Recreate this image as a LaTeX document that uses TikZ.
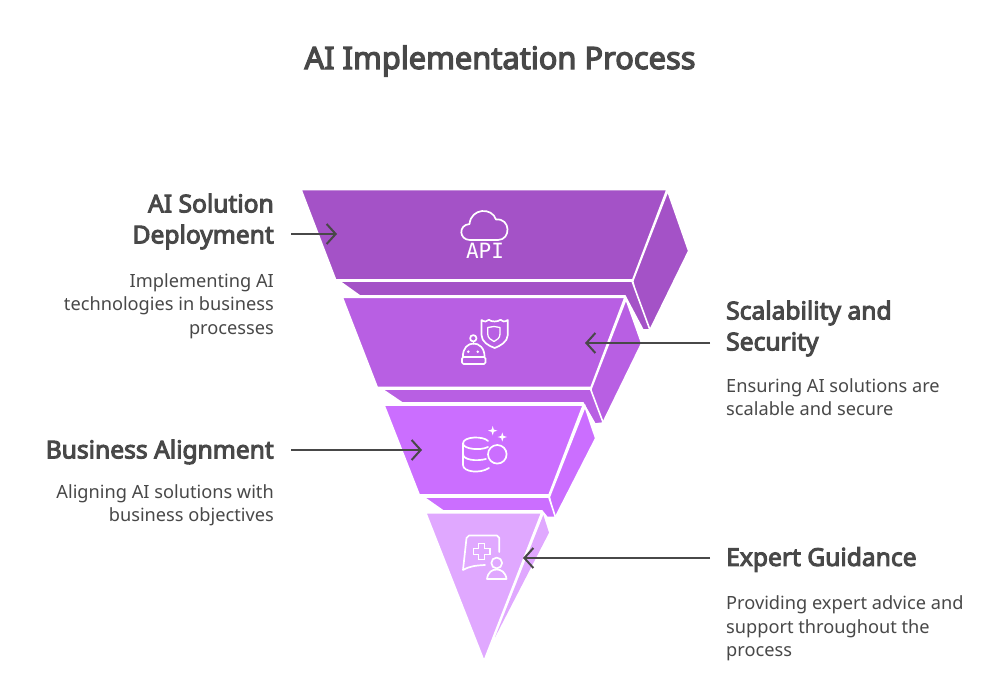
\documentclass[tikz,border=0pt]{standalone}
\usepackage{fontspec}
\setmainfont{Noto Sans}[BoldFont={Noto Sans},BoldFeatures={FakeBold=4}]
\newfontfamily\apifont{DejaVu Sans Mono}
\usetikzlibrary{arrows.meta}

\definecolor{bandA}{HTML}{A452C7}
\definecolor{bandB}{HTML}{B85FE3}
\definecolor{bandC}{HTML}{CB6EFF}
\definecolor{bandD}{HTML}{E0A8FF}
\definecolor{ink}{HTML}{484848}

\tikzset{
    head/.style={text=ink, inner sep=0pt, font=\fontsize{24.6}{31}\selectfont\bfseries},
    desc/.style={text=ink, inner sep=0pt, font=\fontsize{18.2}{23.3}\selectfont},
    toleft/.style={anchor=east, align=right},
    toright/.style={anchor=west, align=left},
    slab/.style={draw=white, line width=1.6pt, line join=miter},
    icon/.style={draw=white, line width=1.7pt, line join=round, line cap=round},
    pointer/.style={draw=ink, line width=2pt, -{Straight Barb[length=9pt,width=20pt]}},
}

\begin{document}
\begin{tikzpicture}[x=1pt,y=-1pt]
                \useasboundingbox (0,0) rectangle (1000,700);

                \node (title) at (500,61) [text=ink, font=\fontsize{30.8}{36}\selectfont\bfseries] {AI Implementation Process};

                % top band
                \draw[slab, fill=bandA] (667.7,191) -- (688.7,251) -- (650,330) -- (643,330) -- (632.7,281) -- cycle;
                \draw[slab, fill=bandA] (339,281) -- (632,281) -- (650,330) -- (643,330) -- (625,296) -- (360,296) -- cycle;
                \draw[slab, fill=bandA] (301,189.5) -- (667,189.5) -- (632.7,280) -- (335.7,280) -- cycle;

                % second band
                \draw[slab, fill=bandB] (626,299) -- (641.7,343.3) -- (603.3,422) -- (595,424) -- (591,389) -- cycle;
                \draw[slab, fill=bandB] (381.7,389) -- (590.5,389) -- (603.3,423) -- (595,424) -- (583,403) -- (402.3,403) -- cycle;
                \draw[slab, fill=bandB] (342.3,297.3) -- (625,297.3) -- (591,387.5) -- (377.3,387.5) -- cycle;

                % third band
                \draw[slab, fill=bandC] (585,406.5) -- (595.7,438.3) -- (556,516) -- (554.3,517.3) -- (549.3,497) -- cycle;
                \draw[slab, fill=bandC] (423.3,497) -- (548.8,497) -- (555.5,517.3) -- (547,517.3) -- (542,511) -- (443.3,511) -- cycle;
                \draw[slab, fill=bandC] (384,405) -- (583.3,405) -- (549,495) -- (419.3,495) -- cycle;

                % bottom band
                \fill[bandD] (543.3,515) -- (549,532.7) -- (495,637.3) -- cycle;
                \draw[slab, fill=bandD] (425.7,512.7) -- (541.7,512.7) -- (484,661) -- cycle;

                % cloud and API
                \draw[icon] (470,240) .. controls (459,240) and (458,225) .. (469.5,224)
                    .. controls (471,208) and (492,207) .. (496,219.5)
                    .. controls (511,218) and (511,240) .. (498,240) -- cycle;
                \node (apitag) at (485,250.5) [text=white, inner sep=0pt, font=\fontsize{21}{22}\selectfont\apifont] {API};

                % robot and shield
                \draw[icon] (473.3,338.3) circle (3.2);
                \draw[icon] (473.5,341.5) -- (473.5,344);
                \draw[icon] (463,357) .. controls (462,339) and (485,339) .. (484.5,357);
                \draw[icon, rounded corners=1.5pt] (462,357) rectangle (485.5,364);
                \fill[white] (468.3,351.7) circle (1.4) (477.7,351.7) circle (1.4);
                \draw[icon] (481.5,320) .. controls (484,322) and (487,322) .. (489,319.8)
                    .. controls (491,322) and (498,322) .. (500.5,319.8)
                    .. controls (502,322) and (505,322) .. (507.8,320)
                    -- (507.8,335) .. controls (507.5,342) and (500,346) .. (494.7,348)
                    .. controls (489,346) and (481.5,342) .. (481.5,335) -- cycle;
                \draw[icon, line width=1.3pt] (487.7,327.5) -- (494,326.5) -- (500,327.5) -- (500,334)
                    .. controls (500,338) and (497,340) .. (494,341.5)
                    .. controls (491,340) and (487.7,338) .. (487.7,334) -- cycle;

                % database and sparkles
                \draw[icon] (488,441) .. controls (484,436) and (463,436) .. (463,443.5)
                    .. controls (463,449) and (480,451) .. (488,447);
                \draw[icon] (463,443.5) -- (463,465) .. controls (463,472) and (480,474) .. (489,468);
                \draw[icon] (463,454) .. controls (463,460) and (476,461.5) .. (486,459);
                \draw[icon] (497.3,454.3) circle (9.3);
                \fill[white] (492.7,426) -- (493.8,429.6) -- (497.4,430.7) -- (493.8,431.8) -- (492.7,435.4) -- (491.6,431.8) -- (488,430.7) -- (491.6,429.6) -- cycle;
                \fill[white] (502.3,432.4) -- (503.4,435.9) -- (506.9,437) -- (503.4,438.1) -- (502.3,441.6) -- (501.2,438.1) -- (497.7,437) -- (501.2,435.9) -- cycle;

                % advice bubble and person
                \draw[icon] (499.3,552) -- (499.3,538) -- (497,535.5) -- (469,535.5) -- (466.5,538) -- (463,570)
                    .. controls (470,566) and (476,565.5) .. (485,565);
                \draw[icon, line join=miter] (478.5,543.5) -- (484.5,543.5) -- (484.5,548.5) -- (490,548.5) -- (490,554.5)
                    -- (484.5,554.5) -- (484.5,559.5) -- (478.5,559.5) -- (478.5,554.5) -- (473.5,554.5)
                    -- (473.5,548.5) -- (478.5,548.5) -- cycle;
                \draw[icon] (496.7,563) circle (5.4);
                \draw[icon] (487,579) .. controls (488,572) and (492,569.5) .. (496.7,569.5)
                    .. controls (501,569.5) and (505.5,572) .. (506.5,579) -- cycle;

                % labels
                \node (deploy) at (274,221.5) [head, toleft] {AI Solution \\ Deployment};
                \node (deploytext) at (274,306) [desc, toleft] {Implementing AI \\ technologies in business \\ processes};
                \node (scale) at (726,328.5) [head, toright] {Scalability and \\ Security};
                \node (scaletext) at (726,397.5) [desc, toright] {Ensuring AI solutions are \\ scalable and secure};
                \node (align) at (274,452) [head, toleft] {Business Alignment};
                \node (aligntext) at (274,505.5) [desc, toleft] {Aligning AI solutions with \\ business objectives};
                \node (expert) at (726,559.5) [head, toright] {Expert Guidance};
                \node (experttext) at (726,628.5) [desc, toright] {Providing expert advice and \\ support throughout the \\ process};

                % pointers
                \coordinate (deployfrom) at (291,234);
                \coordinate (deployto) at (337,234);
                \coordinate (scalefrom) at (710,343);
                \coordinate (scaleto) at (585,343);
                \coordinate (alignfrom) at (291,450);
                \coordinate (alignto) at (422,450);
                \coordinate (expertfrom) at (710,558);
                \coordinate (expertto) at (523,558);
                \draw[pointer] (deployfrom) -- (deployto);
                \draw[pointer] (scalefrom) -- (scaleto);
                \draw[pointer] (alignfrom) -- (alignto);
                \draw[pointer] (expertfrom) -- (expertto);
            \end{tikzpicture}
\end{document}
